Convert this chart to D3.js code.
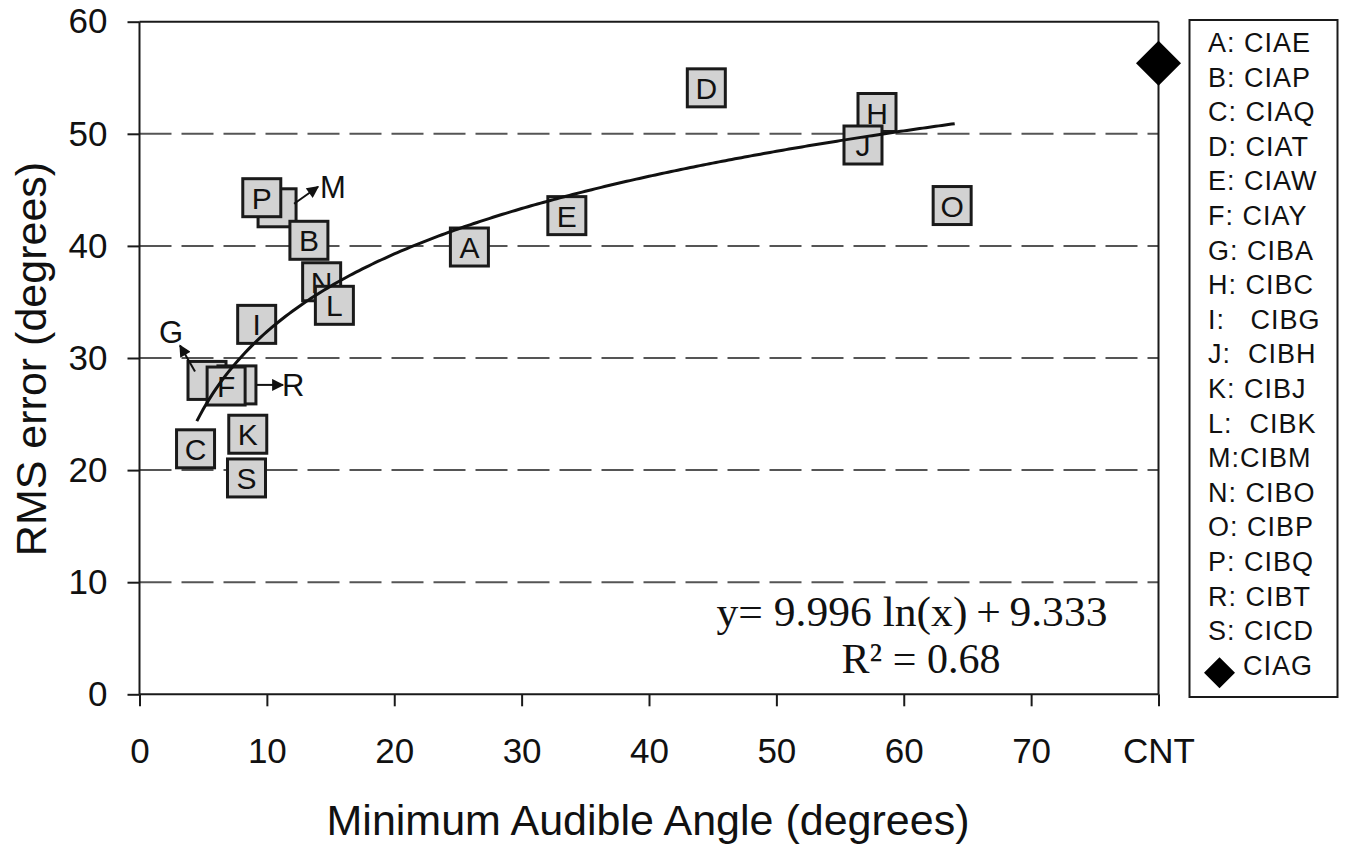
<!DOCTYPE html>
<html>
<head>
<meta charset="utf-8">
<script src="https://cdn.jsdelivr.net/npm/d3@7"></script>
<style>
  html, body { margin: 0; padding: 0; background: #fff; }
  svg { display: block; }
  text { fill: #111; }
</style>
</head>
<body>
<svg id="chart" width="1346" height="846" font-family="'Liberation Sans', Arial, sans-serif"></svg>
<script>
// ---------- data ----------
// point labels, listed in drawing order (later ones drawn on top)
const pointLabels = ['G','R','F','C','K','S','I','M','P','B','N','L','A','E','D','H','J','O'];
const maaValues   = [5.3, 7.65, 6.8, 4.4, 8.5, 8.4, 9.2, 10.8, 9.6, 13.3, 14.3, 15.3, 25.9, 33.55, 44.5, 57.9, 56.8, 63.8];
const rmsValues   = [28.0, 27.6, 27.5, 21.9, 23.2, 19.3, 33.0, 43.4, 44.3, 40.5, 36.8, 34.7, 39.9, 42.7, 54.1, 51.9, 49.0, 43.6];

// control (CNT) point
const cntLabel = 'CIAG';
const cntX = 80;
const cntRms = 56.3;

// legend entries
const legendEntries = ['A: CIAE','B: CIAP','C: CIAQ','D: CIAT','E: CIAW','F: CIAY','G: CIBA','H: CIBC',
  'I:   CIBG','J:  CIBH','K: CIBJ','L:  CIBK','M:CIBM','N: CIBO','O: CIBP','P: CIBQ','R: CIBT','S: CICD'];

// axis ticks
const xTickValues = [0,10,20,30,40,50,60,70,80];
const xTickLabels = ['0','10','20','30','40','50','60','70','CNT'];
const yTickValues = [0,10,20,30,40,50,60];
const gridValues  = [10,20,30,40,50];

// logarithmic fit  y = a ln(x) + b
const fitCoef = [9.996, 9.333];
const fitRange = [4.5, 64];
const fitText = ['y= 9.996 ln(x)\u2009+\u20099.333', 'R\u00B2 = 0.68'];

// hidden points that are labelled with an arrow instead
const arrowLabels = ['G','R','M'];

// ---------- drawing ----------
const svg = d3.select('#chart');
const x = d3.scaleLinear().domain([0, 80]).range([139.5, 1158.5]);
const y = d3.scaleLinear().domain([0, 60]).range([694.3, 21.7]);

// arrow marker
svg.append('defs').append('marker')
  .attr('id','ah').attr('viewBox','0 0 10 10').attr('refX',9).attr('refY',5)
  .attr('markerWidth',15).attr('markerHeight',12).attr('markerUnits','userSpaceOnUse')
  .attr('orient','auto')
  .append('path').attr('d','M0,0 L10,5 L0,10 Z').attr('fill','#111');

// gridlines
svg.append('g').selectAll('line').data(gridValues).join('line')
  .attr('x1', x(0)).attr('x2', x(80))
  .attr('y1', d => y(d)).attr('y2', d => y(d))
  .attr('stroke', '#555').attr('stroke-width', 2)
  .attr('stroke-dasharray', '32,10');

// frame (top and right)
svg.append('line').attr('x1', x(0)).attr('x2', x(80)).attr('y1', y(60)).attr('y2', y(60))
  .attr('stroke','#1a1a1a').attr('stroke-width',2);
svg.append('line').attr('x1', x(80)).attr('x2', x(80)).attr('y1', y(60)).attr('y2', y(0))
  .attr('stroke','#1a1a1a').attr('stroke-width',2);

// axes
const yAxis = svg.append('g').attr('transform', `translate(${x(0)},0)`)
  .call(d3.axisLeft(y).tickValues(yTickValues).tickSize(12).tickPadding(20).tickFormat(d3.format('d')));
const xAxis = svg.append('g').attr('transform', `translate(0,${y(0)})`)
  .call(d3.axisBottom(x).tickValues(xTickValues).tickSize(12).tickPadding(32)
        .tickFormat(d => xTickLabels[xTickValues.indexOf(d)]));
[yAxis, xAxis].forEach(g => {
  g.attr('font-family', null).attr('font-size', null);
  g.select('.domain').attr('stroke','#1a1a1a').attr('stroke-width',2);
  g.selectAll('.tick line').attr('stroke','#1a1a1a').attr('stroke-width',2);
  g.selectAll('.tick text').attr('font-size', 35).attr('fill','#111');
});
xAxis.select('.domain').attr('d', `M${x(0)},0H${x(80)}`);
yAxis.select('.domain').attr('d', `M0,${y(60)}V${y(0)}`);

// axis titles
svg.append('text').attr('x', 648).attr('y', 835).attr('text-anchor','middle')
  .attr('font-size', 43).text('Minimum Audible Angle (degrees)');
svg.append('text').attr('transform','translate(46,359) rotate(-90)').attr('text-anchor','middle')
  .attr('font-size', 43).text('RMS error (degrees)');

// points
const pts = pointLabels.map((l,i) => ({label:l, mx:maaValues[i], r:rmsValues[i]}));
const side = 38;
const pg = svg.append('g').selectAll('g').data(pts).join('g')
  .attr('transform', d => `translate(${x(d.mx)},${y(d.r)})`);
pg.append('rect').attr('x', -side/2).attr('y', -side/2).attr('width', side).attr('height', side)
  .attr('fill','#d2d2d2').attr('stroke','#1a1a1a').attr('stroke-width',3);
pg.filter(d => !arrowLabels.includes(d.label))
  .append('text').attr('text-anchor','middle').attr('y', 11).attr('font-size', 30)
  .text(d => d.label);

// fit curve
const fitX = d3.range(fitRange[0], fitRange[1] + 0.001, 0.25);
svg.append('path').datum(fitX)
  .attr('d', d3.line().x(d => x(d)).y(d => y(fitCoef[0]*Math.log(d) + fitCoef[1])))
  .attr('fill','none').attr('stroke','#111').attr('stroke-width',3);

// arrow annotations (pixel offsets relative to the hidden point)
const arrowGeom = {
  G: {tail:[-12,-9], tip:[-27,-35], lab:[-36,-37], anchor:'middle'},
  R: {tail:[20,0], tip:[46,0], lab:[45,11], anchor:'start'},
  M: {tail:[17,-4], tip:[41,-21], lab:[43,-10], anchor:'start'}
};
arrowLabels.forEach(l => {
  const p = pts.find(d => d.label === l);
  const g = arrowGeom[l];
  const cx = x(p.mx), cy = y(p.r);
  svg.append('line').attr('x1', cx+g.tail[0]).attr('y1', cy+g.tail[1])
    .attr('x2', cx+g.tip[0]).attr('y2', cy+g.tip[1])
    .attr('stroke','#111').attr('stroke-width',2).attr('marker-end','url(#ah)');
  svg.append('text').attr('x', cx+g.lab[0]).attr('y', cy+g.lab[1])
    .attr('text-anchor', g.anchor).attr('font-size', 31).text(l);
});

// CNT diamond
const diamond = r => `M0,${-r}L${r},0L0,${r}L${-r},0Z`;
svg.append('path').attr('transform', `translate(${x(cntX)},${y(cntRms)})`)
  .attr('d', diamond(22.5)).attr('fill','#000');

// equation
const serif = "'Liberation Serif', 'Times New Roman', serif";
svg.append('text').attr('x', 912).attr('y', 626).attr('text-anchor','middle')
  .style('font-family', serif).attr('font-size', 42)
  .attr('textLength', 391).attr('lengthAdjust','spacingAndGlyphs')
  .text(fitText[0]);
svg.append('text').attr('x', 921).attr('y', 673).attr('text-anchor','middle')
  .style('font-family', serif).attr('font-size', 42)
  .text(fitText[1]);

// legend
const lg = svg.append('g');
lg.append('rect').attr('x', 1189.5).attr('y', 20).attr('width', 148).attr('height', 677)
  .attr('fill','#fff').attr('stroke','#1a1a1a').attr('stroke-width',2);
lg.selectAll('text.le').data(legendEntries).join('text').attr('class','le')
  .attr('x', 1208).attr('y', (d,i) => 52 + i*34.6)
  .attr('font-size', 27).attr('letter-spacing', 1).style('white-space','pre')
  .text(d => d);
lg.append('path').attr('transform', `translate(1219.5,${52 + 18*34.6 - 2})`)
  .attr('d', diamond(15.5)).attr('fill','#000');
lg.append('text').attr('x', 1243).attr('y', 52 + 18*34.6).attr('font-size', 27)
  .attr('letter-spacing', 1).text(cntLabel);
</script>
</body>
</html>
